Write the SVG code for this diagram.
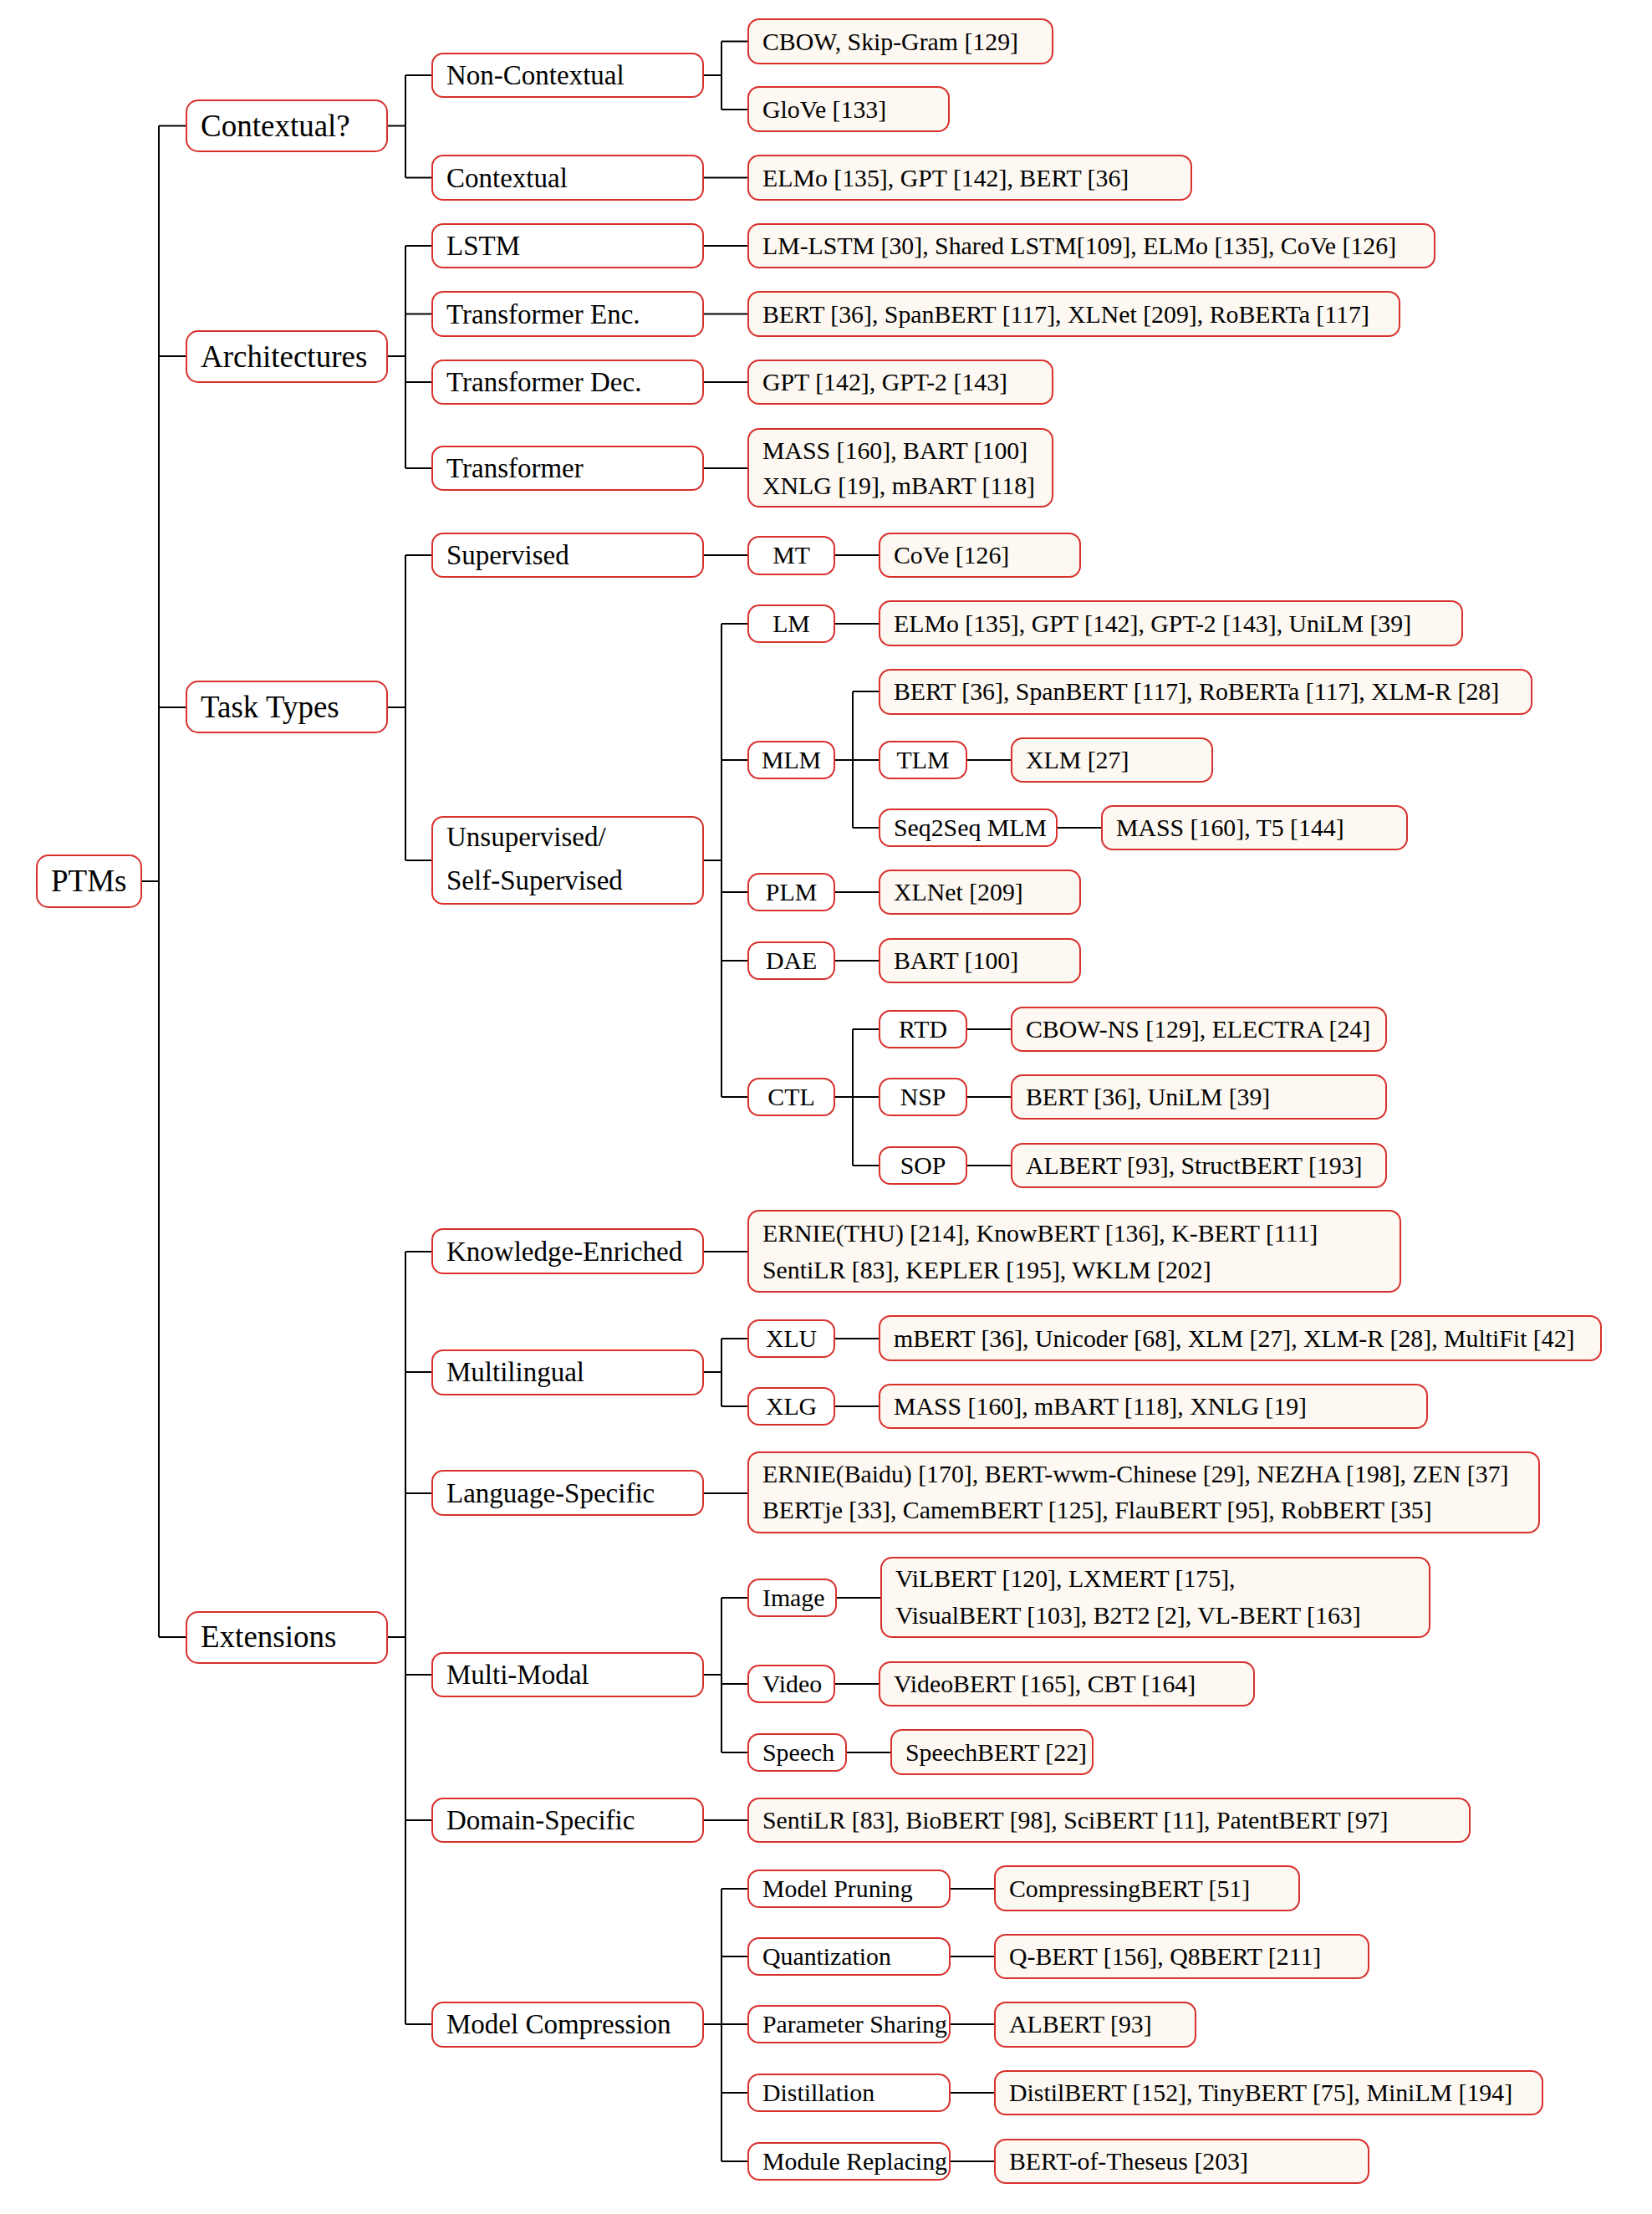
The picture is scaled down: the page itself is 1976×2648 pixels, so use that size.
<svg xmlns="http://www.w3.org/2000/svg" width="1976" height="2648" viewBox="0 0 1976 2648">
<style>
rect{stroke:#d8302c;stroke-width:2;fill:#ffffff}
.lf rect{fill:#fdf8f1}
text{font-family:"Liberation Serif","Times New Roman",serif;fill:#000}
.t1{font-size:37px}
.t2{font-size:33px}
.t3{font-size:29.8px}
.c{text-anchor:middle}
#connectors path{stroke:#000;stroke-width:2;fill:none}
</style>
<rect x="0" y="0" width="1976" height="2648" style="fill:#fff;stroke:none"/>
<g id="connectors">
<path d="M169 1054H190M190 150.5V1958M190 150.5H223M190 426H223M190 846H223M190 1958H223"/>
<path d="M463 150.5H485M485 90V212.5M485 90H517M485 212.5H517"/>
<path d="M463 426H485M485 294V560M485 294H517M485 375.5H517M485 457H517M485 560H517"/>
<path d="M463 846H485M485 664V1029M485 664H517M485 1029H517"/>
<path d="M463 1958H485M485 1497V2421M485 1497H517M485 1641H517M485 1786H517M485 2003H517M485 2177H517M485 2421H517"/>
<path d="M841 90H863M863 49.5V131M863 49.5H895M863 131H895"/>
<path d="M841 212.5H895M841 294H895M841 375.5H895M841 457H895M841 560H895"/>
<path d="M841 664H895M998 664H1052"/>
<path d="M841 1029H863M863 746V1312M863 746H895M863 909H895M863 1067H895M863 1149H895M863 1312H895"/>
<path d="M998 746H1052M998 1067H1052M998 1149H1052"/>
<path d="M998 909H1020M1020 827V990M1020 827H1052M1020 909H1052M1020 990H1052M1156 909H1210M1264 990H1318"/>
<path d="M998 1312H1020M1020 1231V1394M1020 1231H1052M1020 1312H1052M1020 1394H1052M1156 1231H1210M1156 1312H1210M1156 1394H1210"/>
<path d="M841 1497H895M841 1786H895M841 2177H895"/>
<path d="M841 1641H863M863 1601V1682M863 1601H895M863 1682H895M998 1601H1052M998 1682H1052"/>
<path d="M841 2003H863M863 1911V2096M863 1911H895M863 2014H895M863 2096H895M1000 1911H1054M998 2014H1052M1012 2096H1066"/>
<path d="M841 2421H863M863 2259V2585M863 2259H895M863 2340H895M863 2421H895M863 2503H895M863 2585H895M1136 2259H1190M1136 2340H1190M1136 2421H1190M1136 2503H1190M1136 2585H1190"/>
</g>

<g id="n-ptms"><rect x="44" y="1023" width="125" height="62" rx="14"/><text class="t1" x="61" y="1066">PTMs</text></g>

<g id="n-contextualq"><rect x="223" y="120" width="240" height="61" rx="14"/><text class="t1" x="240" y="163">Contextual?</text></g>
<g id="n-architectures"><rect x="223" y="396" width="240" height="61" rx="14"/><text class="t1" x="240" y="439">Architectures</text></g>
<g id="n-tasktypes"><rect x="223" y="815" width="240" height="61" rx="14"/><text class="t1" x="240" y="858">Task Types</text></g>
<g id="n-extensions"><rect x="223" y="1928" width="240" height="61" rx="14"/><text class="t1" x="240" y="1970">Extensions</text></g>

<g id="n-noncontextual"><rect x="517" y="64" width="324" height="52" rx="13"/><text class="t2" x="534" y="101">Non-Contextual</text></g>
<g id="n-contextual"><rect x="517" y="186" width="324" height="53" rx="13"/><text class="t2" x="534" y="224">Contextual</text></g>
<g id="n-lstm"><rect x="517" y="268" width="324" height="52" rx="13"/><text class="t2" x="534" y="305">LSTM</text></g>
<g id="n-tenc"><rect x="517" y="349" width="324" height="53" rx="13"/><text class="t2" x="534" y="387">Transformer Enc.</text></g>
<g id="n-tdec"><rect x="517" y="431" width="324" height="52" rx="13"/><text class="t2" x="534" y="468">Transformer Dec.</text></g>
<g id="n-transformer"><rect x="517" y="534" width="324" height="52" rx="13"/><text class="t2" x="534" y="571">Transformer</text></g>
<g id="n-supervised"><rect x="517" y="638" width="324" height="52" rx="13"/><text class="t2" x="534" y="675">Supervised</text></g>
<g id="n-unsupervised"><rect x="517" y="977" width="324" height="104" rx="13"/><text class="t2" x="534" y="1012">Unsupervised/</text><text class="t2" x="534" y="1064">Self-Supervised</text></g>
<g id="n-knowledge"><rect x="517" y="1470" width="324" height="53" rx="13"/><text class="t2" x="534" y="1508">Knowledge-Enriched</text></g>
<g id="n-multilingual"><rect x="517" y="1615" width="324" height="53" rx="13"/><text class="t2" x="534" y="1652">Multilingual</text></g>
<g id="n-langspecific"><rect x="517" y="1759" width="324" height="53" rx="13"/><text class="t2" x="534" y="1797">Language-Specific</text></g>
<g id="n-multimodal"><rect x="517" y="1977" width="324" height="52" rx="13"/><text class="t2" x="534" y="2014">Multi-Modal</text></g>
<g id="n-domainspecific"><rect x="517" y="2151" width="324" height="52" rx="13"/><text class="t2" x="534" y="2188">Domain-Specific</text></g>
<g id="n-modelcompression"><rect x="517" y="2395" width="324" height="53" rx="13"/><text class="t2" x="534" y="2432">Model Compression</text></g>

<g id="l-cbow" class="lf"><rect x="895" y="23" width="364" height="53" rx="13"/><text class="t3" x="912" y="60">CBOW, Skip-Gram [129]</text></g>
<g id="l-glove" class="lf"><rect x="895" y="104" width="240" height="53" rx="13"/><text class="t3" x="912" y="141">GloVe [133]</text></g>
<g id="l-elmo" class="lf"><rect x="895" y="186" width="530" height="53" rx="13"/><text class="t3" x="912" y="223">ELMo [135], GPT [142], BERT [36]</text></g>
<g id="l-lmlstm" class="lf"><rect x="895" y="268" width="821" height="52" rx="13"/><text class="t3" x="912" y="304">LM-LSTM [30], Shared LSTM[109], ELMo [135], CoVe [126]</text></g>
<g id="l-bertenc" class="lf"><rect x="895" y="349" width="779" height="53" rx="13"/><text class="t3" x="912" y="386">BERT [36], SpanBERT [117], XLNet [209], RoBERTa [117]</text></g>
<g id="l-gpt" class="lf"><rect x="895" y="431" width="364" height="52" rx="13"/><text class="t3" x="912" y="467">GPT [142], GPT-2 [143]</text></g>
<g id="l-mass" class="lf"><rect x="895" y="513" width="364" height="93" rx="13"/><text class="t3" x="912" y="549">MASS [160], BART [100]</text><text class="t3" x="912" y="591">XNLG [19], mBART [118]</text></g>

<g id="n-mt"><rect x="895" y="642" width="103" height="45" rx="13"/><text class="t3 c" x="946.5" y="674">MT</text></g>
<g id="l-cove" class="lf"><rect x="1052" y="638" width="240" height="52" rx="13"/><text class="t3" x="1069" y="674">CoVe [126]</text></g>
<g id="n-lm"><rect x="895" y="724" width="103" height="44" rx="13"/><text class="t3 c" x="946.5" y="756">LM</text></g>
<g id="l-lm" class="lf"><rect x="1052" y="719" width="697" height="53" rx="13"/><text class="t3" x="1069" y="756">ELMo [135], GPT [142], GPT-2 [143], UniLM [39]</text></g>
<g id="n-mlm"><rect x="895" y="887" width="103" height="44" rx="13"/><text class="t3 c" x="946.5" y="919">MLM</text></g>
<g id="l-mlm" class="lf"><rect x="1052" y="801" width="780" height="53" rx="13"/><text class="t3" x="1069" y="837">BERT [36], SpanBERT [117], RoBERTa [117], XLM-R [28]</text></g>
<g id="n-tlm"><rect x="1052" y="887" width="104" height="44" rx="13"/><text class="t3 c" x="1104" y="919">TLM</text></g>
<g id="l-xlm" class="lf"><rect x="1210" y="883" width="240" height="52" rx="13"/><text class="t3" x="1227" y="919">XLM [27]</text></g>
<g id="n-seq2seq"><rect x="1052" y="968" width="212" height="44" rx="13"/><text class="t3" x="1069" y="1000">Seq2Seq MLM</text></g>
<g id="l-seq2seq" class="lf"><rect x="1318" y="964" width="365" height="52" rx="13"/><text class="t3" x="1335" y="1000">MASS [160], T5 [144]</text></g>
<g id="n-plm"><rect x="895" y="1045" width="103" height="44" rx="13"/><text class="t3 c" x="946.5" y="1077">PLM</text></g>
<g id="l-plm" class="lf"><rect x="1052" y="1041" width="240" height="52" rx="13"/><text class="t3" x="1069" y="1077">XLNet [209]</text></g>
<g id="n-dae"><rect x="895" y="1127" width="103" height="44" rx="13"/><text class="t3 c" x="946.5" y="1159">DAE</text></g>
<g id="l-dae" class="lf"><rect x="1052" y="1123" width="240" height="52" rx="13"/><text class="t3" x="1069" y="1159">BART [100]</text></g>
<g id="n-ctl"><rect x="895" y="1290" width="103" height="44" rx="13"/><text class="t3 c" x="946.5" y="1322">CTL</text></g>
<g id="n-rtd"><rect x="1052" y="1209" width="104" height="44" rx="13"/><text class="t3 c" x="1104" y="1241">RTD</text></g>
<g id="l-rtd" class="lf"><rect x="1210" y="1205" width="448" height="52" rx="13"/><text class="t3" x="1227" y="1241">CBOW-NS [129], ELECTRA [24]</text></g>
<g id="n-nsp"><rect x="1052" y="1290" width="104" height="44" rx="13"/><text class="t3 c" x="1104" y="1322">NSP</text></g>
<g id="l-nsp" class="lf"><rect x="1210" y="1286" width="448" height="52" rx="13"/><text class="t3" x="1227" y="1322">BERT [36], UniLM [39]</text></g>
<g id="n-sop"><rect x="1052" y="1372" width="104" height="44" rx="13"/><text class="t3 c" x="1104" y="1404">SOP</text></g>
<g id="l-sop" class="lf"><rect x="1210" y="1368" width="448" height="52" rx="13"/><text class="t3" x="1227" y="1404">ALBERT [93], StructBERT [193]</text></g>

<g id="l-knowledge" class="lf"><rect x="895" y="1448" width="780" height="97" rx="13"/><text class="t3" x="912" y="1485">ERNIE(THU) [214], KnowBERT [136], K-BERT [111]</text><text class="t3" x="912" y="1529">SentiLR [83], KEPLER [195], WKLM [202]</text></g>
<g id="n-xlu"><rect x="895" y="1579" width="103" height="44" rx="13"/><text class="t3 c" x="946.5" y="1611">XLU</text></g>
<g id="l-xlu" class="lf"><rect x="1052" y="1574" width="863" height="53" rx="13"/><text class="t3" x="1069" y="1611">mBERT [36], Unicoder [68], XLM [27], XLM-R [28], MultiFit [42]</text></g>
<g id="n-xlg"><rect x="895" y="1660" width="103" height="44" rx="13"/><text class="t3 c" x="946.5" y="1692">XLG</text></g>
<g id="l-xlg" class="lf"><rect x="1052" y="1656" width="655" height="52" rx="13"/><text class="t3" x="1069" y="1692">MASS [160], mBART [118], XNLG [19]</text></g>
<g id="l-langspecific" class="lf"><rect x="895" y="1737" width="946" height="96" rx="13"/><text class="t3" x="912" y="1773">ERNIE(Baidu) [170], BERT-wwm-Chinese [29], NEZHA [198], ZEN [37]</text><text class="t3" x="912" y="1816">BERTje [33], CamemBERT [125], FlauBERT [95], RobBERT [35]</text></g>
<g id="n-image"><rect x="895" y="1889" width="105" height="44" rx="13"/><text class="t3" x="912" y="1921">Image</text></g>
<g id="l-image" class="lf"><rect x="1054" y="1863" width="656" height="95" rx="13"/><text class="t3" x="1071" y="1898">ViLBERT [120], LXMERT [175],</text><text class="t3" x="1071" y="1942">VisualBERT [103], B2T2 [2], VL-BERT [163]</text></g>
<g id="n-video"><rect x="895" y="1992" width="103" height="44" rx="13"/><text class="t3" x="912" y="2024">Video</text></g>
<g id="l-video" class="lf"><rect x="1052" y="1988" width="448" height="52" rx="13"/><text class="t3" x="1069" y="2024">VideoBERT [165], CBT [164]</text></g>
<g id="n-speech"><rect x="895" y="2074" width="117" height="44" rx="13"/><text class="t3" x="912" y="2106">Speech</text></g>
<g id="l-speech" class="lf"><rect x="1066" y="2069" width="241" height="53" rx="13"/><text class="t3" x="1083" y="2106">SpeechBERT [22]</text></g>
<g id="l-domain" class="lf"><rect x="895" y="2151" width="863" height="52" rx="13"/><text class="t3" x="912" y="2187">SentiLR [83], BioBERT [98], SciBERT [11], PatentBERT [97]</text></g>

<g id="n-pruning"><rect x="895" y="2237" width="241" height="44" rx="13"/><text class="t3" x="912" y="2269">Model Pruning</text></g>
<g id="l-pruning" class="lf"><rect x="1190" y="2232" width="364" height="53" rx="13"/><text class="t3" x="1207" y="2269">CompressingBERT [51]</text></g>
<g id="n-quant"><rect x="895" y="2318" width="241" height="44" rx="13"/><text class="t3" x="912" y="2350">Quantization</text></g>
<g id="l-quant" class="lf"><rect x="1190" y="2314" width="447" height="52" rx="13"/><text class="t3" x="1207" y="2350">Q-BERT [156], Q8BERT [211]</text></g>
<g id="n-param"><rect x="895" y="2399" width="241" height="44" rx="13"/><text class="t3" x="912" y="2431">Parameter Sharing</text></g>
<g id="l-param" class="lf"><rect x="1190" y="2395" width="240" height="53" rx="13"/><text class="t3" x="1207" y="2431">ALBERT [93]</text></g>
<g id="n-distill"><rect x="895" y="2481" width="241" height="44" rx="13"/><text class="t3" x="912" y="2513">Distillation</text></g>
<g id="l-distill" class="lf"><rect x="1190" y="2477" width="655" height="52" rx="13"/><text class="t3" x="1207" y="2513">DistilBERT [152], TinyBERT [75], MiniLM [194]</text></g>
<g id="n-module"><rect x="895" y="2563" width="241" height="44" rx="13"/><text class="t3" x="912" y="2595">Module Replacing</text></g>
<g id="l-module" class="lf"><rect x="1190" y="2559" width="447" height="52" rx="13"/><text class="t3" x="1207" y="2595">BERT-of-Theseus [203]</text></g>
</svg>
